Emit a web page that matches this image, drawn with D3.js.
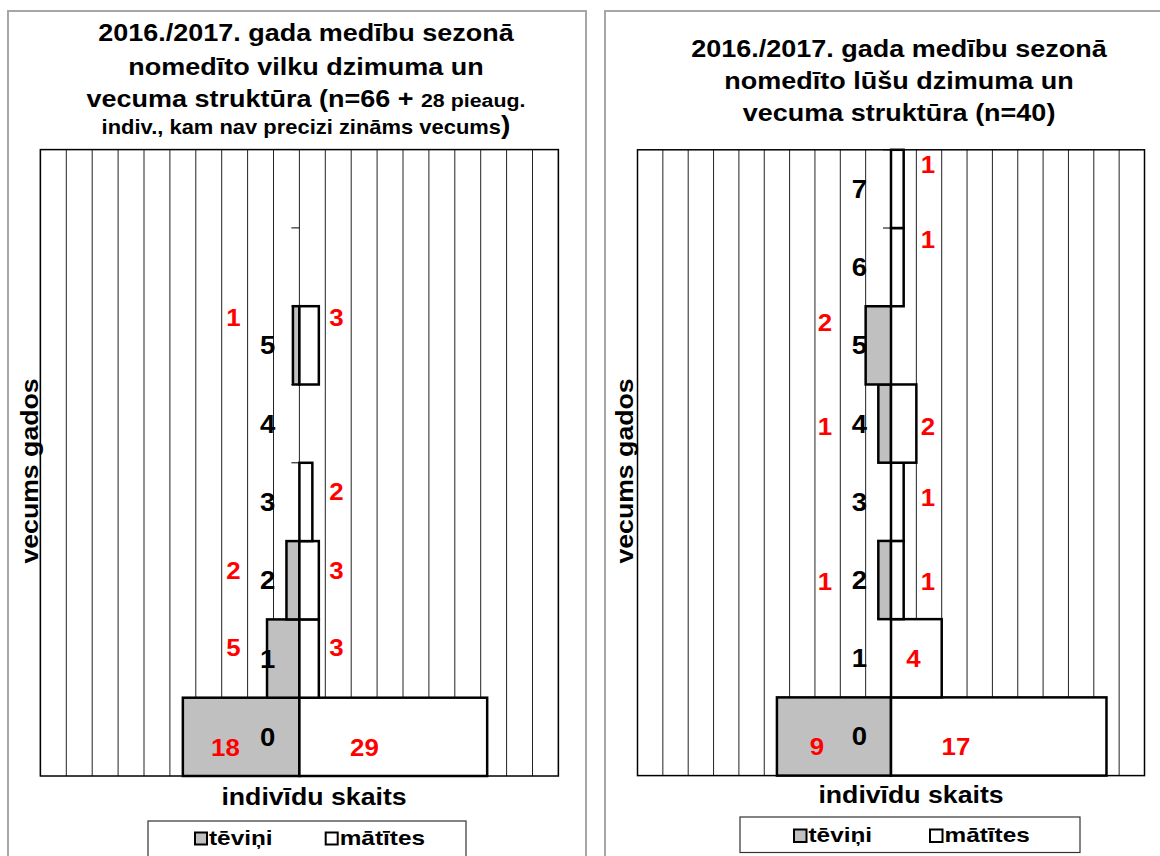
<!DOCTYPE html>
<html>
<head>
<meta charset="utf-8">
<script src="https://cdn.jsdelivr.net/npm/d3@7"></script>
<style>
  html, body { margin: 0; padding: 0; background: #fff; }
  svg { display: block; }
  text { font-family: "Liberation Sans", Arial, sans-serif; font-weight: bold; }
</style>
</head>
<body>
<svg id="chart" width="1160" height="856"></svg>
<script>
// ---------------- DATA ----------------
const ages = [0, 1, 2, 3, 4, 5, 6, 7];
const wolfTickLabels = ["0", "1", "2", "3", "4", "5", "", ""];
const wolfMales   = [18, 5, 2, 0, 0, 1, 0, 0];
const wolfFemales = [29, 3, 3, 2, 0, 3, 0, 0];
const lynxTickLabels = ["0", "1", "2", "3", "4", "5", "6", "7"];
const lynxMales   = [9, 0, 1, 0, 1, 2, 0, 0];
const lynxFemales = [17, 4, 1, 1, 2, 0, 1, 1];
const legendLabels = ["tēviņi", "mātītes"];
const yAxisTitle = "vecums gados";
const xAxisTitle = "indivīdu skaits";

// ---------------- LAYOUT ----------------
const SX = 1.125;   // horizontal stretch of glyphs (reference text is wider than Arial)
const SXA = 1.16;
const svg = d3.select("#chart");

function stext(parent, x, y, str, o) {
  const g = parent.append("g")
    .attr("transform", `translate(${x},${y})` + (o.rotate ? ` rotate(${o.rotate})` : "") + ` scale(${o.sx || SX},1)`);
  const t = g.append("text")
    .attr("text-anchor", o.anchor || "middle")
    .style("font-size", o.size + "px")
    .attr("fill", o.fill || "#000");
  if (o.dy) t.attr("dy", o.dy);
  if (Array.isArray(str)) {
    str.forEach(s => t.append("tspan").style("font-size", s.size + "px").text(s.t));
  } else t.text(str);
  return t;
}

const panels = [
  {
    box: [8, 11, 578, 880],
    plot: [40.4, 558.4, 149.6, 776],
    dom: 40, step: 4,
    males: wolfMales, females: wolfFemales, ticks: wolfTickLabels,
    labelFrac: [0.64, 0.36, 0.38, 0.37, 0.4, 0.15, 0.4, 0.4],
    titleCx: 306,
    title: [
      { y: 41, parts: [{ t: "2016./2017. gada medību sezonā", size: 24 }] },
      { y: 75, parts: [{ t: "nomedīto vilku dzimuma un", size: 24 }] },
      { y: 107, parts: [{ t: "vecuma struktūra (n=66 + ", size: 24 }, { t: "28 pieaug.", size: 19 }] },
      { y: 134, parts: [{ t: "indiv., kam nav precizi zināms vecums", size: 19.5 }, { t: ")", size: 25 }] }
    ],
    yTitle: [30, 471],
    xTitle: [314, 805],
    legend: { box: [148, 821, 318, 36], items: [47, 177.7], sq: 12, base: 844.5 }
  },
  {
    box: [605, 11, 600, 880],
    plot: [637.5, 1144.5, 149.8, 775.6],
    dom: 20, step: 2,
    males: lynxMales, females: lynxFemales, ticks: lynxTickLabels,
    labelFrac: [0.63, 0.5, 0.52, 0.45, 0.54, 0.21, 0.15, 0.19],
    titleCx: 899,
    title: [
      { y: 56.5, parts: [{ t: "2016./2017. gada medību sezonā", size: 24 }] },
      { y: 88.5, parts: [{ t: "nomedīto lūšu dzimuma un", size: 24 }] },
      { y: 120.5, parts: [{ t: "vecuma struktūra (n=40)", size: 24 }] }
    ],
    yTitle: [625, 471],
    xTitle: [911, 803],
    legend: { box: [740, 817, 340, 35.5], items: [54, 190], sq: 12.5, base: 842 }
  }
];

panels.forEach(p => {
  const g = svg.append("g");
  // panel frame
  g.append("rect")
    .attr("x", p.box[0]).attr("y", p.box[1]).attr("width", p.box[2]).attr("height", p.box[3])
    .attr("fill", "#fff").attr("stroke", "#a6a6a6").attr("stroke-width", 2);

  const [x0, x1, y0, y1] = p.plot;
  const x = d3.scaleLinear().domain([-p.dom, p.dom]).range([x0, x1]);
  const y = d3.scaleBand().domain(ages.slice().reverse()).range([y0, y1]).padding(0);
  const bw = y.bandwidth();
  const cx = x(0);

  // vertical gridlines
  const gridVals = d3.range(-p.dom, p.dom + 0.001, p.step);
  g.append("g").selectAll("line").data(gridVals).join("line")
    .attr("x1", d => x(d)).attr("x2", d => x(d))
    .attr("y1", y0).attr("y2", y1)
    .attr("stroke", "#222").attr("stroke-width", 1);

  // plot frame
  g.append("rect").attr("x", x0).attr("y", y0).attr("width", x1 - x0).attr("height", y1 - y0)
    .attr("fill", "none").attr("stroke", "#000").attr("stroke-width", 1.5);

  // category tick marks at band boundaries
  g.append("g").selectAll("line").data(ages).join("line")
    .attr("x1", cx - 8).attr("x2", cx)
    .attr("y1", d => y(d)).attr("y2", d => y(d))
    .attr("stroke", "#000").attr("stroke-width", 1);

  // bars
  const rows = ages.map((a, i) => ({ age: a, m: p.males[i], f: p.females[i], i }));
  g.append("g").selectAll("rect").data(rows.filter(d => d.m > 0)).join("rect")
    .attr("x", d => x(-d.m)).attr("y", d => y(d.age))
    .attr("width", d => cx - x(-d.m)).attr("height", bw)
    .attr("fill", "#c0c0c0").attr("stroke", "#000").attr("stroke-width", 2.5);
  g.append("g").selectAll("rect").data(rows.filter(d => d.f > 0)).join("rect")
    .attr("x", cx).attr("y", d => y(d.age))
    .attr("width", d => x(d.f) - cx).attr("height", bw)
    .attr("fill", "#fff").attr("stroke", "#000").attr("stroke-width", 2.5);

  // category labels
  rows.forEach(d => {
    if (!p.ticks[d.i]) return;
    stext(g, cx - 24, y(d.age) + bw / 2, p.ticks[d.i], { size: 25, anchor: "end", dy: "0.36em", sx: 1.1 });
  });

  // value labels
  rows.forEach(d => {
    const ly = y(d.age) + bw * p.labelFrac[d.i];
    if (d.m > 0) {
      const lx = d.age === 0 ? cx - 74 : cx - 66;
      stext(g, lx, ly, String(d.m), { size: 23, fill: "#ff0000", dy: "0.36em" });
    }
    if (d.f > 0) {
      const w = x(d.f) - cx;
      const lx = d.age === 0 ? cx + 65 : (w > 45 ? cx + w / 2 - 3 : cx + 37);
      stext(g, lx, ly, String(d.f), { size: 23, fill: "#ff0000", dy: "0.36em" });
    }
  });

  // title
  p.title.forEach(line => {
    stext(g, p.titleCx, line.y, line.parts, { size: 24, sx: SX });
  });

  // axis titles
  stext(g, p.yTitle[0], p.yTitle[1], yAxisTitle, { size: 23, rotate: -90, dy: "0.35em", sx: SXA });
  stext(g, p.xTitle[0], p.xTitle[1], xAxisTitle, { size: 23, sx: SXA });

  // legend
  const L = p.legend;
  g.append("rect").attr("x", L.box[0]).attr("y", L.box[1]).attr("width", L.box[2]).attr("height", L.box[3])
    .attr("fill", "#fff").attr("stroke", "#333").attr("stroke-width", 1.2);
  const fills = ["#c0c0c0", "#fff"];
  legendLabels.forEach((lab, k) => {
    const lx = L.box[0] + L.items[k];
    g.append("rect").attr("x", lx).attr("y", L.base - L.sq).attr("width", L.sq).attr("height", L.sq)
      .attr("fill", fills[k]).attr("stroke", "#000").attr("stroke-width", 2);
    stext(g, lx + L.sq + 2, L.base, lab, { size: 21, anchor: "start", sx: SXA });
  });
});
</script>
</body>
</html>
